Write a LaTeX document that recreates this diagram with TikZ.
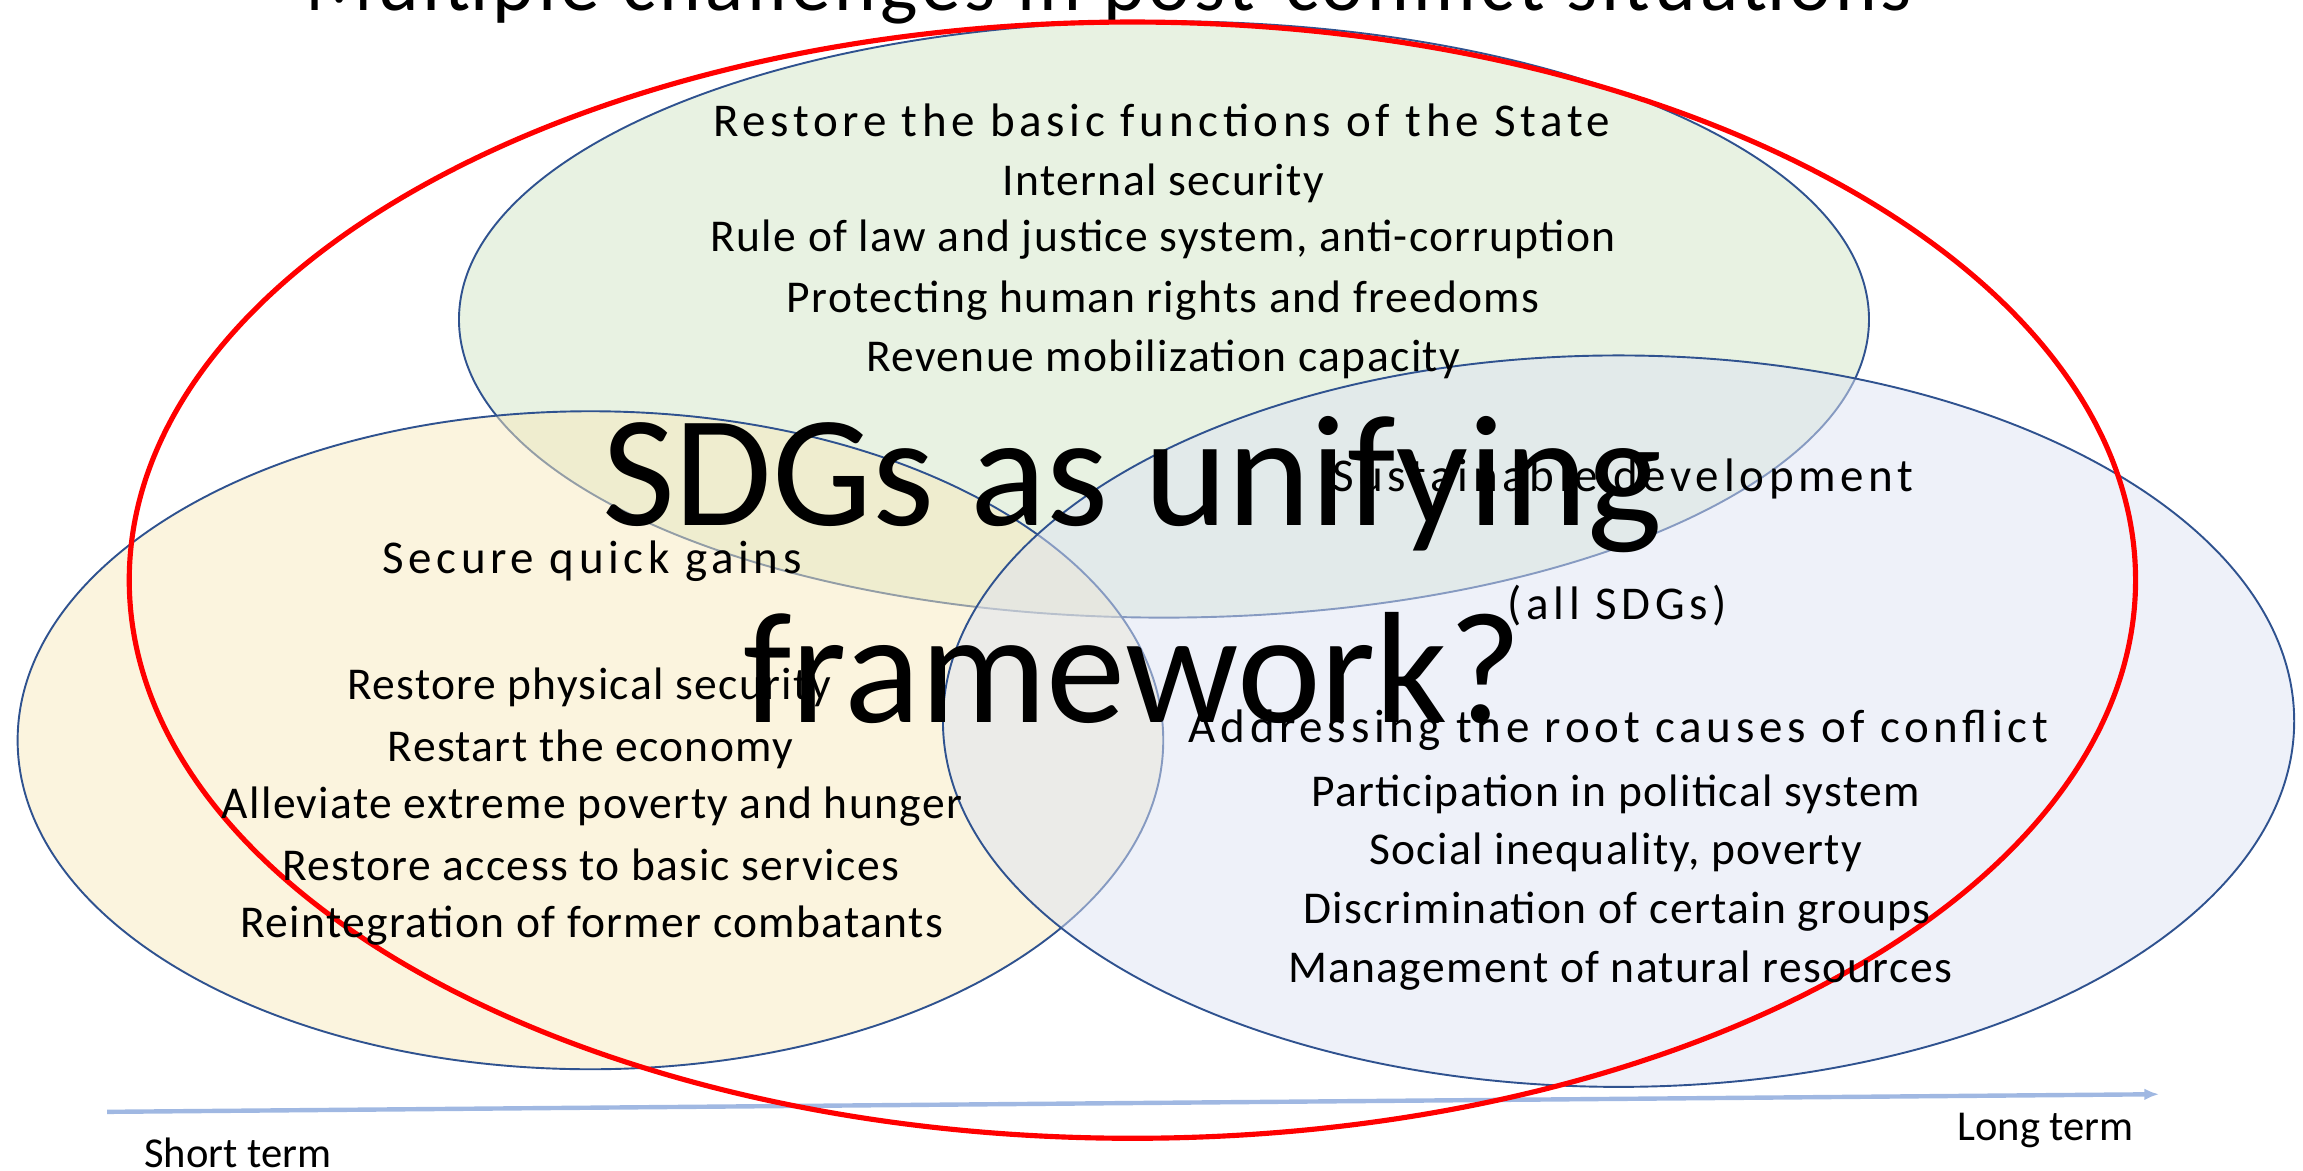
\documentclass[tikz,border=0pt]{standalone}
\usepackage{fontspec}
\setmainfont{Carlito}
\newfontfamily\headfont[LetterSpace=10]{Carlito}
\newfontfamily\bodyfont[LetterSpace=3]{Carlito}
\newfontfamily\titlefont[LetterSpace=5]{Carlito}
\usetikzlibrary{arrows.meta}
\definecolor{gfill}{RGB}{209,229,197}
\definecolor{yfill}{RGB}{247,233,189}
\definecolor{bfill}{RGB}{221,227,243}
\definecolor{edge}{RGB}{47,82,143}
\definecolor{axis}{RGB}{160,184,226}
\tikzset{
  circ/.style={draw=edge, line width=1.3pt, fill opacity=0.5},
  body/.style={font=\bodyfont\fontsize{31}{36}\selectfont, inner sep=0pt},
  head/.style={font=\headfont\fontsize{32}{38}\selectfont, inner sep=0pt},
  small/.style={font=\fontsize{29}{34}\selectfont, inner sep=0pt},
  big/.style={font=\fontsize{108}{125}\selectfont, inner sep=0pt},
}
\begin{document}
\begin{tikzpicture}[x=1pt,y=-1pt]
\useasboundingbox (0,0) rectangle (1568,797);
% title (clipped at top)
\node[anchor=base, font=\titlefont\fontsize{54}{60}\selectfont, inner sep=0pt] (title) at (755,7) {Multiple challenges in post-conflict situations};
% ellipses
\path[circ, fill=gfill] (792.5,217.5) ellipse [x radius=480, y radius=203];
\path[circ, fill=yfill] (402,504) ellipse [x radius=390, y radius=224];
\path[circ, fill=bfill] (1102,491) ellipse [x radius=460, y radius=249];
% time axis
\coordinate (ts) at (73,757);
\coordinate (te) at (1470,745);
\draw[axis, line width=3pt, -{Latex[length=10pt,width=8pt]}] (ts) -- (te);
\node[small, anchor=west] (short) at (98,785) {Short term};
\node[small, anchor=east] (long) at (1453,770) {Long term};
% red ellipse
\draw[red, line width=3.5pt] (771,395) ellipse [x radius=683, y radius=380];
% green texts
\node[head] (g1) at (791,82) {Restore the basic functions of the State};
\node[body] (g2) at (792,125) {Internal security};
\node[body] (g3) at (792,163) {Rule of law and justice system, anti-corruption};
\node[body] (g4) at (792,205) {Protecting human rights and freedoms};
\node[body] (g5) at (792,245) {Revenue mobilization capacity};
% yellow texts
\node[head] (y1) at (403,382) {Secure quick gains};
\node[body] (y2) at (401,468) {Restore physical security};
\node[body] (y3) at (402,510) {Restart the economy};
\node[body] (y4) at (403,549) {Alleviate extreme poverty and hunger};
\node[body] (y5) at (402,589) {Restore access to basic services};
\node[body] (y6) at (403,630) {Reintegration of former combatants};
% blue texts
\node[head] (b1) at (1105,326) {Sustainable development};
\node[head] (b2) at (1101,412) {(all SDGs)};
\node[head] (b3) at (1102,497) {Addressing the root causes of conflict};
\node[body] (b4) at (1100,541) {Participation in political system};
\node[body] (b5) at (1100,580) {Social inequality, poverty};
\node[body] (b6) at (1101,621) {Discrimination of certain groups};
\node[body] (b7) at (1103,661) {Management of natural resources};
% big question
\node[big] (q1) at (771,330) {SDGs as unifying};
\node[big] (q2) at (771,455) {framework?};
\end{tikzpicture}
\end{document}
